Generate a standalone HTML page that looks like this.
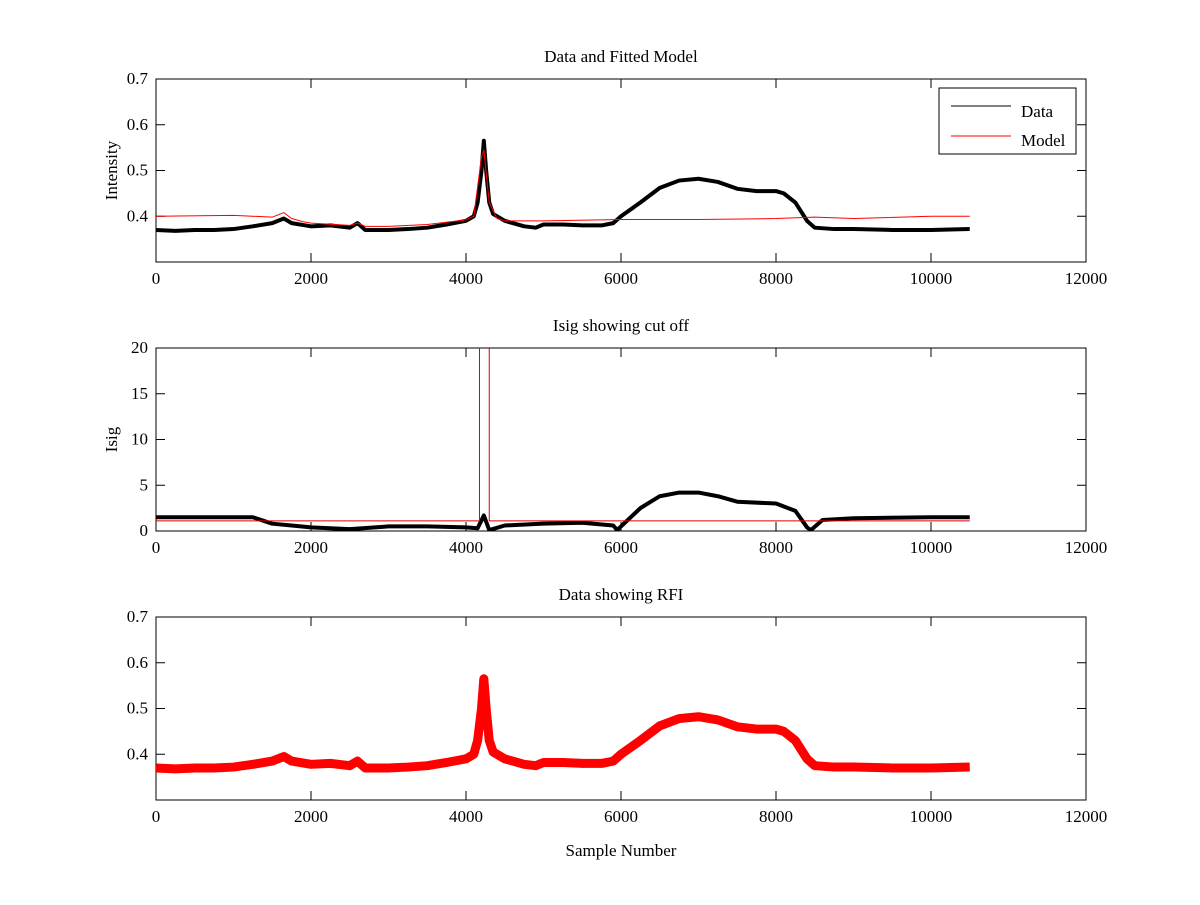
<!DOCTYPE html>
<html><head><meta charset="utf-8"><style>
body{margin:0;background:#fff}
svg text{font-family:"Liberation Serif",serif;font-size:17px;fill:#000}
</style></head><body>
<svg id="fig" width="1200" height="900" xmlns="http://www.w3.org/2000/svg"></svg>
<script>
const xs = [0,250,500,750,1000,1250,1500,1650,1750,2000,2250,2500,2600,2700,3000,3250,3500,3750,4000,4100,4150,4200,4230,4260,4300,4350,4500,4750,4900,5000,5250,5500,5750,5900,6000,6250,6500,6750,7000,7250,7500,7750,8000,8100,8250,8400,8500,8750,9000,9500,10000,10500];
const dataVals = [0.37,0.368,0.37,0.37,0.372,0.378,0.385,0.395,0.385,0.378,0.38,0.375,0.385,0.37,0.37,0.372,0.375,0.382,0.39,0.40,0.43,0.50,0.565,0.50,0.43,0.405,0.39,0.378,0.375,0.382,0.382,0.38,0.38,0.385,0.40,0.43,0.462,0.478,0.482,0.475,0.46,0.455,0.455,0.45,0.43,0.39,0.375,0.372,0.372,0.37,0.37,0.372];
const modelX = [0,1000,1500,1650,1750,1900,2000,2500,2600,2700,3000,3500,4000,4100,4200,4230,4300,4400,4500,5000,6000,7000,8000,8500,9000,10000,10500];
const modelVals = [0.40,0.402,0.398,0.408,0.395,0.388,0.385,0.38,0.385,0.378,0.378,0.382,0.392,0.40,0.53,0.545,0.43,0.395,0.39,0.39,0.393,0.393,0.395,0.398,0.395,0.40,0.40];
const isigX = [0,1250,1500,1750,2000,2500,3000,3500,4000,4150,4230,4300,4500,5000,5500,5900,5950,6250,6500,6750,7000,7250,7500,8000,8250,8400,8450,8600,9000,10000,10500];
const isigVals = [1.5,1.5,0.8,0.6,0.4,0.2,0.5,0.5,0.4,0.3,1.7,0.1,0.6,0.8,0.9,0.6,0.1,2.5,3.8,4.2,4.2,3.8,3.2,3.0,2.2,0.4,0.1,1.2,1.4,1.5,1.5];
const cutX = [0,4174,4174,4300,4300,10500];
const cutVals = [1.1,1.1,25,25,1.1,1.1];
const xTicks = [0,2000,4000,6000,8000,10000,12000];
const yTicksA = [0.4,0.5,0.6,0.7];
const yTicksB = [0,5,10,15,20];

const svg = document.getElementById('fig');
const NS = 'http://www.w3.org/2000/svg';
function mk(tag, attrs, parent){const e=document.createElementNS(NS,tag);for(const k in attrs)e.setAttribute(k,attrs[k]);(parent||svg).appendChild(e);return e;}
const L=156,R=1086;
function sx(v){return L+(v/12000)*(R-L);}
function axes(name,top,bot,ymin,ymax,yt,title,ylabel,xlabel){
  const g=mk('g',{});
  
  
  const sy=v=>bot-(v-ymin)/(ymax-ymin)*(bot-top);
  const r=mk('rect',{x:L,y:top,width:R-L,height:bot-top,fill:'none',stroke:'#000','stroke-width':1},g);
  
  
  xTicks.forEach(t=>{
    const x=sx(t);
    mk('line',{x1:x,y1:bot,x2:x,y2:bot-9,stroke:'#000'},g);
    mk('line',{x1:x,y1:top,x2:x,y2:top+9,stroke:'#000'},g);
    const tx=mk('text',{x:x,y:bot+22,'text-anchor':'middle'},g);tx.textContent=t;
    
    
  });
  yt.forEach(t=>{
    const y=sy(t);
    mk('line',{x1:L,y1:y,x2:L+9,y2:y,stroke:'#000'},g);
    mk('line',{x1:R,y1:y,x2:R-9,y2:y,stroke:'#000'},g);
    const tx=mk('text',{x:L-8,y:y+5,'text-anchor':'end'},g);tx.textContent=t;
    
    
  });
  const tt=mk('text',{x:(L+R)/2,y:top-17,'text-anchor':'middle'},g);tt.textContent=title;
  
  
  if(ylabel){const yl=mk('text',{x:0,y:0,'text-anchor':'middle',transform:`translate(117,${(top+bot)/2}) rotate(-90)`},g);yl.textContent=ylabel;
  
  }
  if(xlabel){const xl=mk('text',{x:(L+R)/2,y:bot+56,'text-anchor':'middle'},g);xl.textContent=xlabel;
  
  }
  const cp=mk('clipPath',{id:'c'+name},g);mk('rect',{x:L,y:top,width:R-L,height:bot-top},cp);
  return {g,sy,clip:'url(#c'+name+')'};
}
function line(ax,X,Y,color,w,name){
  const p=mk('polyline',{points:X.map((x,i)=>sx(x)+','+ax.sy(Y[i])).join(' '),fill:'none',stroke:color,'stroke-width':w,'stroke-linejoin':'round','clip-path':ax.clip},ax.g);
  
  
}
const a1=axes('top-plot',79,262,0.3,0.7,yTicksA,'Data and Fitted Model','Intensity');
line(a1,xs,dataVals,'#000',4,'data-line');
line(a1,modelX,modelVals,'#f00',1,'model-line');
const lg=mk('g',{},a1.g);


mk('rect',{x:939,y:88,width:137,height:66,fill:'#fff',stroke:'#000'},lg);
mk('line',{x1:951,y1:106,x2:1011,y2:106,stroke:'#000'},lg);
mk('line',{x1:951,y1:136,x2:1011,y2:136,stroke:'#f00'},lg);
const t1=mk('text',{x:1021,y:117},lg);t1.textContent='Data';


const t2=mk('text',{x:1021,y:146},lg);t2.textContent='Model';



const a2=axes('middle-plot',348,531,0,20,yTicksB,'Isig showing cut off','Isig');
line(a2,isigX,isigVals,'#000',4,'isig-line');
line(a2,cutX,cutVals,'#d00',1,'cutoff-line');

const a3=axes('bottom-plot',617,800,0.3,0.7,yTicksA,'Data showing RFI',null,'Sample Number');
line(a3,xs,dataVals,'#f00',9,'rfi-markers');
</script>
</body></html>
